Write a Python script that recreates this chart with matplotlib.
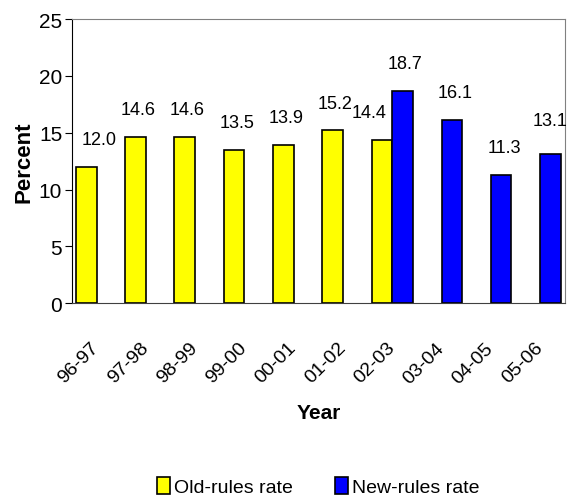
import numpy as np
import matplotlib
matplotlib.use('Agg')
import matplotlib.pyplot as plt

years = ['96-97', '97-98', '98-99', '99-00', '00-01', '01-02', '02-03', '03-04', '04-05', '05-06']
old_rules = [12.0, 14.6, 14.6, 13.5, 13.9, 15.2, 14.4, np.nan, np.nan, np.nan]
new_rules = [np.nan, np.nan, np.nan, np.nan, np.nan, np.nan, 18.7, 16.1, 11.3, 13.1]

plt.rcParams['font.family'] = ['Liberation Sans', 'DejaVu Sans']

fig = plt.figure(figsize=(5.71, 5.02), dpi=100)
ax = fig.add_axes([0.126, 0.394, 0.863, 0.566])

x = np.arange(len(years))
w = 0.42
ax.bar(x - w / 2, old_rules, w, color='#ffff00', edgecolor='black', linewidth=1.2, label='Old-rules rate')
ax.bar(x + w / 2, new_rules, w, color='#0000ff', edgecolor='black', linewidth=1.2, label='New-rules rate')

# value labels, nudged like the excel original
nudge_old = {0: 9, 6: -9}
for i, v in enumerate(old_rules):
    if not np.isnan(v):
        ax.annotate(f'{v:.1f}', (x[i] - w / 2, v), xytext=(nudge_old.get(i, 2), 16.5),
                    textcoords='offset points', ha='center', va='baseline', fontsize=13)
for i, v in enumerate(new_rules):
    if not np.isnan(v):
        dy = 21 if i == 9 else 16.5
        ax.annotate(f'{v:.1f}', (x[i] + w / 2, v), xytext=(2 if i < 9 else 0, dy),
                    textcoords='offset points', ha='center', va='baseline', fontsize=13,
                    annotation_clip=False)

ax.set_xlim(-0.5, len(years) - 0.5)
ax.set_ylim(0, 25)
ax.set_yticks(range(0, 26, 5))
ax.tick_params(axis='y', labelsize=15, length=5, direction='out', pad=2)
ax.set_xticks(x)
ax.set_xticklabels(years, rotation=45, ha='right', va='center', rotation_mode='anchor', fontsize=14)
ax.tick_params(axis='x', length=0, pad=30)

for s in ['top', 'right']:
    ax.spines[s].set_color('#808080')
ax.spines['bottom'].set_color('#404040')
ax.spines['left'].set_color('black')

ax.set_ylabel('Percent', fontsize=16, fontweight='bold', labelpad=3)
ax.set_xlabel('Year', fontsize=15, fontweight='bold')
ax.xaxis.set_label_coords(0.5, -0.35)

ax.legend(loc='center', bbox_to_anchor=(0.5, -0.645), ncol=2, frameon=False, fontsize=14,
          handlelength=0.67, handleheight=0.95, handletextpad=0.2, columnspacing=2.2)

fig.savefig('out.png', dpi=100)
